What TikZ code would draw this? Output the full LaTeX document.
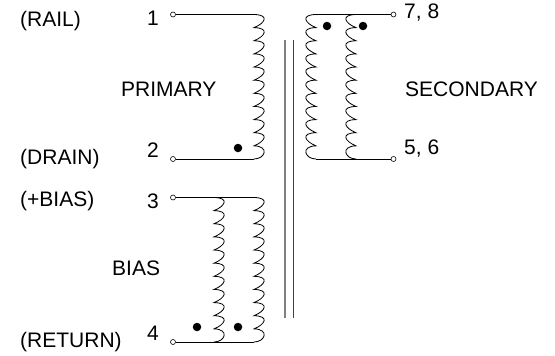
\documentclass[tikz,border=0pt]{standalone}
\usepackage{fontspec}
\setmainfont{Liberation Sans}
\newcommand{\windingcoil}[4]{% x of wire end, y top, y bottom, bulge (signed)
  \pgfmathsetmacro{\cstep}{(#3-#2)/11}
  \draw[wire] (#1,#2) \foreach \ci in {0,...,10}{
    \pgfextra{\pgfmathsetmacro{\ya}{#2+\ci*\cstep}\pgfmathsetmacro{\yb}{#2+(\ci+1)*\cstep}
    \pgfmathsetmacro{\xa}{#1+1.75*#4}\pgfmathsetmacro{\xb}{#1+1.25*#4}
    \pgfmathsetmacro{\yc}{\ci==10 ? \yb : \yb-4.5}}
    .. controls (\xa,\ya+0.3) and (\xb,\yc) .. (#1,\yb)
  };
}
\tikzset{
  wire/.style={line width=0.8pt,black},
  term/.style={circle,draw=black,line width=0.6pt,fill=white,inner sep=0pt,minimum size=5pt},
  dotmark/.style={circle,fill=black,inner sep=0pt,minimum size=8.5pt},
  lab/.style={font=\fontsize{21}{24}\selectfont,inner sep=0pt,text=black,anchor=west},
  corea/.style={line width=1.1pt,black!50},
  coreb/.style={line width=0.8pt,black!75}
}
\begin{document}
\begin{tikzpicture}[x=1pt,y=-1pt]
\useasboundingbox (0,0) rectangle (555,356);
\node[lab] (railt) at (20,21) {(RAIL)};
\node[lab] (n1) at (147,18) {1};
\node[lab] (prit) at (121,89) {PRIMARY};
\node[lab] (draint) at (20,159) {(DRAIN)};
\node[lab] (n2) at (147,150) {2};
\node[lab] (biast) at (20,201) {(+BIAS)};
\node[lab] (n3) at (147,201) {3};
\node[lab] (bt) at (112,268) {BIAS};
\node[lab] (rett) at (20,342) {(RETURN)};
\node[lab] (n4) at (147,333) {4};
\node[lab] (n78) at (404,13) {7, 8};
\node[lab] (sect) at (405,89) {SECONDARY};
\node[lab] (n56) at (404,149) {5, 6};

\node[term] (t1) at (173,14.5) {};
\node[term] (t2) at (173,159) {};
\node[term] (t3) at (173,197.5) {};
\node[term] (t4) at (173,342) {};
\node[term] (t78) at (393.5,14.5) {};
\node[term] (t56) at (393.5,159) {};

\coordinate (p1) at (254,14.5);
\coordinate (p2) at (254,159);
\coordinate (b1) at (254,197.5);
\coordinate (b2) at (254,342);
\coordinate (s0) at (316,14.5);
\draw[wire] (t1) -- (p1);
\draw[wire] (t2) -- (p2);
\draw[wire] (t3) -- (b1);
\draw[wire] (t4) -- (b2);
\draw[wire] (t78) -- (s0);
\draw[wire] (t56) -- (s0 |- t56);

\windingcoil{254}{14.5}{159}{9}
\windingcoil{214}{197.5}{342}{9}
\windingcoil{254}{197.5}{342}{9}
\windingcoil{316}{14.5}{159}{-9}
\windingcoil{356}{14.5}{159}{-9}

\node[dotmark] (d1) at (238,148) {};
\node[dotmark] (d2) at (197,327) {};
\node[dotmark] (d3) at (238,327) {};
\node[dotmark] (d4) at (327,26) {};
\node[dotmark] (d5) at (363,26) {};

\coordinate (c1) at (285,40);
\coordinate (c2) at (285,318);
\coordinate (c3) at (293,40);
\coordinate (c4) at (293,318);
\draw[corea] (c1) -- (c2);
\draw[coreb] (c3) -- (c4);
\end{tikzpicture}
\end{document}
